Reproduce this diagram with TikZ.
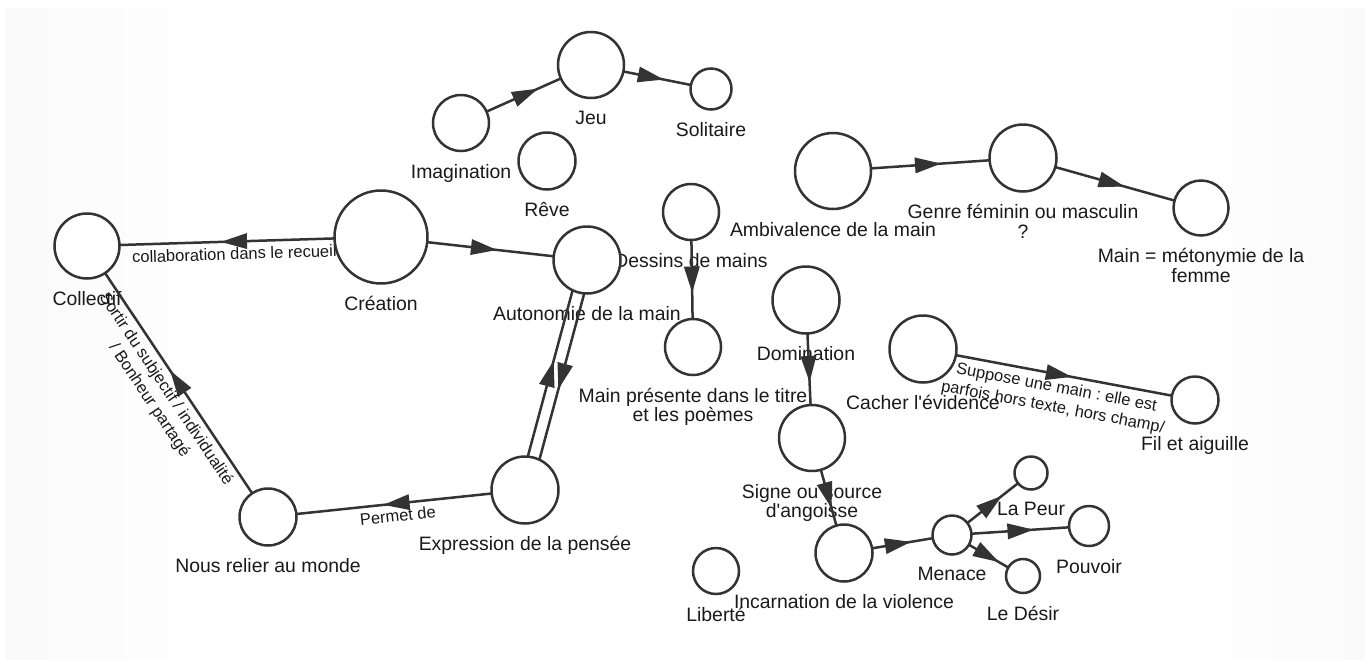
\documentclass[tikz,border=0pt]{standalone}
\usepackage{fontspec}
\newfontfamily\lsf{Liberation Sans}
\usetikzlibrary{decorations.markings,positioning,shadings}
\pgfdeclarelayer{bg}
\pgfdeclarelayer{labels}
\pgfdeclarelayer{edges}
\pgfsetlayers{bg,labels,edges,main}
\definecolor{lc}{HTML}{333333}
\definecolor{bgg}{HTML}{E8E8E8}
\definecolor{tc}{HTML}{1A1A1A}
\pgfdeclarehorizontalshading{bgsh}{100bp}{color(0bp)=(bgg); color(33bp)=(white); color(68bp)=(white); color(100bp)=(bgg)}
\frenchspacing
\begin{document}
\begin{tikzpicture}[x=1pt,y=-1pt,
  circ/.style={circle,draw=lc,fill=white,line width=2.5pt,inner sep=0pt,minimum size=#1},
  lab/.style={font=\lsf\fontsize{19.4}{19.5}\selectfont,text=tc,align=center,inner sep=0pt,anchor=north},
  edge/.style={draw=lc,line width=2.5pt,postaction={decorate},
    decoration={markings,mark=at position 0.5 with {\fill[lc] (13pt,0pt) -- (-13pt,8pt) -- (-13pt,-8pt) -- cycle;}}},
  elab/.style={font=\lsf\frenchspacing\fontsize{16.5}{20}\selectfont,text=tc,align=center,sloped,midway,below=5pt,inner sep=0pt}]
\useasboundingbox (0,0) rectangle (1372,659);
\begin{pgfonlayer}{bg}
  \fill[white] (0,0) rectangle (1372,659);
  \shade[shading=bgsh] (6,8) rectangle (1365,659);
\end{pgfonlayer}

% circles
\node[circ=65pt] (col) at (87,246) {};
\node[circ=93pt] (cre) at (381,237) {};
\node[circ=67pt] (aut) at (587,260) {};
\node[circ=56pt] (des) at (691,212) {};
\node[circ=56pt] (mpr) at (693,347) {};
\node[circ=56pt] (ima) at (461,123) {};
\node[circ=66pt] (jeu) at (591,65) {};
\node[circ=41pt] (sol) at (711,89) {};
\node[circ=57pt] (rev) at (547,161) {};
\node[circ=76pt] (amb) at (833,171) {};
\node[circ=67pt] (gen) at (1023,158) {};
\node[circ=55pt] (met) at (1201,208) {};
\node[circ=67pt] (dom) at (806,300) {};
\node[circ=66pt] (sig) at (812,438) {};
\node[circ=57pt] (inc) at (844,553) {};
\node[circ=39pt] (men) at (952,535) {};
\node[circ=33pt] (peu) at (1031,473) {};
\node[circ=40pt] (pou) at (1089,526) {};
\node[circ=34pt] (dsr) at (1023,576) {};
\node[circ=46pt] (lib) at (716,571) {};
\node[circ=67pt] (cac) at (923,349) {};
\node[circ=47pt] (fil) at (1195,400) {};
\node[circ=67pt] (exp) at (525,490) {};
\node[circ=57pt] (nou) at (268,517) {};

% labels
\begin{pgfonlayer}{labels}
\node[lab,below=11.5pt of col] (col-l) {Collectif};
\node[lab,below=11.5pt of cre] (cre-l) {Création};
\node[lab,below=11.5pt of aut] (aut-l) {Autonomie de la main};
\node[lab,below=11.5pt of des] (des-l) {Dessins de mains};
\node[lab,below=11.5pt of mpr] (mpr-l) {Main présente dans le titre\\et les poèmes};
\node[lab,below=11.5pt of ima] (ima-l) {Imagination};
\node[lab,below=11.5pt of jeu] (jeu-l) {Jeu};
\node[lab,below=11.5pt of sol] (sol-l) {Solitaire};
\node[lab,below=11.5pt of rev] (rev-l) {Rêve};
\node[lab,below=11.5pt of amb] (amb-l) {Ambivalence de la main};
\node[lab,below=11.5pt of gen] (gen-l) {Genre féminin ou masculin\\?};
\node[lab,below=11.5pt of met] (met-l) {Main = métonymie de la\\femme};
\node[lab,below=11.5pt of dom] (dom-l) {Domination};
\node[lab,below=11.5pt of sig] (sig-l) {Signe ou source\\d'angoisse};
\node[lab,below=11.5pt of inc] (inc-l) {Incarnation de la violence};
\node[lab,below=11.5pt of men] (men-l) {Menace};
\node[lab,below=11.5pt of peu] (peu-l) {La Peur};
\node[lab,below=11.5pt of pou] (pou-l) {Pouvoir};
\node[lab,below=11.5pt of dsr] (dsr-l) {Le Désir};
\node[lab,below=11.5pt of lib] (lib-l) {Liberté};
\node[lab,below=11.5pt of cac] (cac-l) {Cacher l'évidence};
\node[lab,below=11.5pt of fil] (fil-l) {Fil et aiguille};
\node[lab,below=11.5pt of exp] (exp-l) {Expression de la pensée};
\node[lab,below=11.5pt of nou] (nou-l) {Nous relier au monde};
\end{pgfonlayer}

% connectors
\begin{pgfonlayer}{edges}
\draw[edge] (ima.center) -- (jeu.center);
\draw[edge] (jeu.center) -- (sol.center);
\draw[edge] (cre.center) -- node[elab] {collaboration dans le recueil} (col.center);
\draw[edge] (cre.center) -- (aut.center);
\draw[edge] ([shift={(-5.8,-1.6)}]exp.center) -- ([shift={(-5.8,-1.6)}]aut.center);
\draw[edge] ([shift={(5.8,1.6)}]aut.center) -- ([shift={(5.8,1.6)}]exp.center);
\draw[edge] (exp.center) -- node[elab] {Permet de} (nou.center);
\draw[edge] (nou.center) -- node[elab] {Sortir du subjectif / individualité\\/ Bonheur partagé} (col.center);
\draw[edge] (des.center) -- (mpr.center);
\draw[edge] (amb.center) -- (gen.center);
\draw[edge] (gen.center) -- (met.center);
\draw[edge] (dom.center) -- (sig.center);
\draw[edge] (sig.center) -- (inc.center);
\draw[edge] (inc.center) -- (men.center);
\draw[edge] (men.center) -- (peu.center);
\draw[edge] (men.center) -- (pou.center);
\draw[edge] (men.center) -- (dsr.center);
\draw[edge] (cac.center) -- node[elab] {Suppose une main : elle est\\parfois hors texte, hors champ/} (fil.center);
\end{pgfonlayer}
\end{tikzpicture}
\end{document}
